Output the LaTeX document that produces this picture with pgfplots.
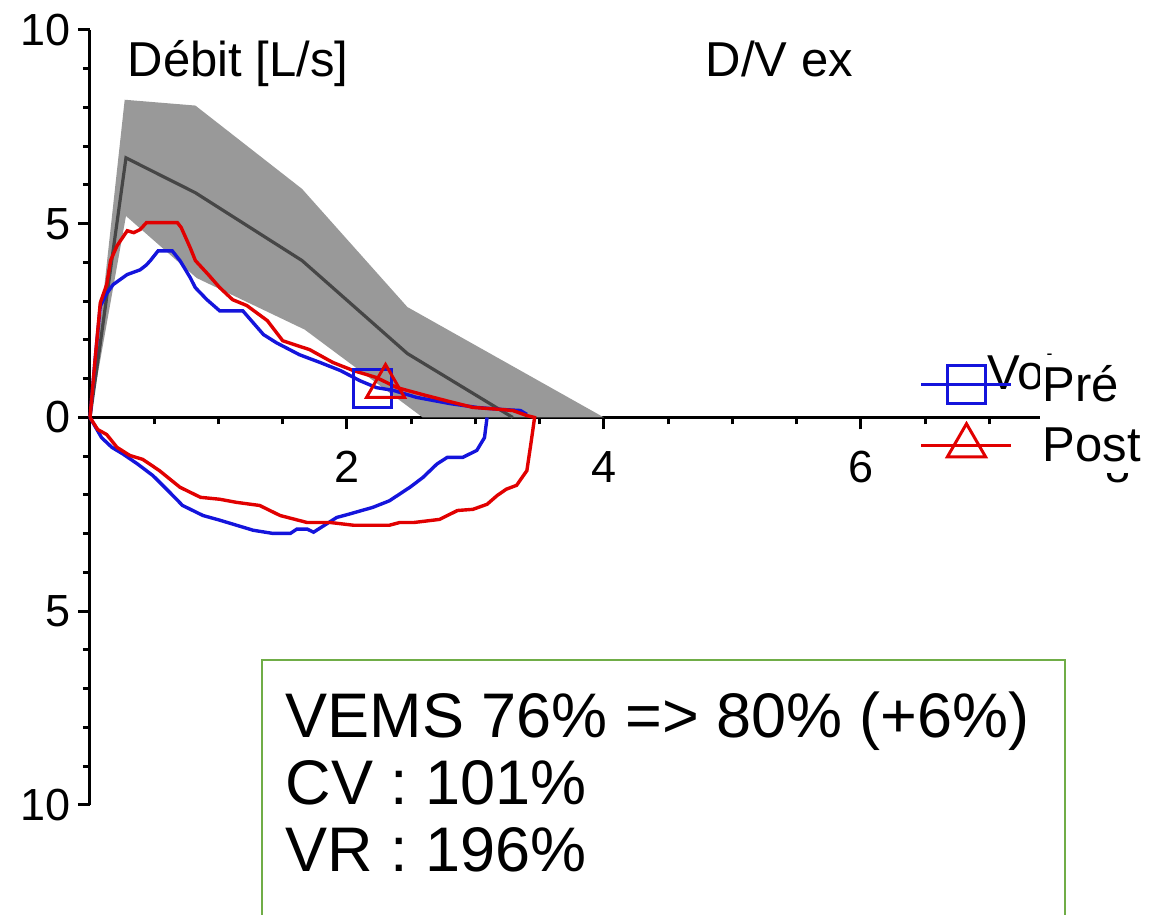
\documentclass[border=0pt]{standalone}
\usepackage{fontspec}
\setmainfont{Liberation Sans}
\usepackage{pgfplots}
\pgfplotsset{compat=1.18}
\definecolor{bandgray}{RGB}{153,153,153}
\definecolor{predgray}{RGB}{70,70,70}
\definecolor{preblue}{RGB}{20,20,220}
\definecolor{postred}{RGB}{225,0,0}
\definecolor{boxgreen}{RGB}{112,173,71}
\begin{document}
\begin{tikzpicture}
\useasboundingbox (-45pt,-55pt) rectangle (531pt,402.5pt);
\clip (-45pt,-55pt) rectangle (531pt,402.5pt);
\begin{axis}[
  at={(0pt,0pt)}, anchor=south west,
  scale only axis, width=514pt, height=387.5pt,
  xmin=0, xmax=8, ymin=-10, ymax=10,
  axis lines=middle,
  axis line style={-, line width=1.5pt, black},
  tick style={line width=1.5pt, black},
  tick align=outside,
  major tick length=6pt, minor tick length=3.5pt,
  xtick={2,4,6,8},
  minor xtick={0.5,1,1.5,2.5,3,3.5,4.5,5,5.5,6.5,7,7.5},
  ytick={-10,-5,0,5,10},
  yticklabels={10,5,0,5,10},
  minor ytick={-9,-8,-7,-6,-4,-3,-2,-1,1,2,3,4,6,7,8,9},
  hide obscured x ticks=false, hide obscured y ticks=false,
  ticklabel style={font=\fontsize{22.5}{27}\selectfont},
  xticklabel style={yshift=-7.5pt},
  /pgf/number format/assume math mode=true,
  clip=false,
  legend style={at={(axis description cs:0.807,0.573)}, anchor=north west,
    draw=none, fill=none, font=\fontsize{24.5}{29}\selectfont,
    inner sep=0pt, column sep=13pt, row sep=7.5pt},
  legend cell align=left,
  legend image code/.code={\draw[mark repeat=2,mark phase=2,#1] plot coordinates {(0pt,0pt) (22.5pt,0pt) (45pt,0pt)};},
]
% normal range band
\addplot[forget plot, fill=bandgray, draw=none] coordinates {
(0,0) (0.27,8.2) (0.82,8.05) (1.65,5.9) (2.47,2.85) (4.0,0) (2.59,0) (1.67,2.27) (0.83,3.6) (0.28,5.2) (0,0)};
% predicted
\addplot[forget plot, predgray, line width=1.6pt] coordinates {
(0,0) (0.28,6.7) (0.82,5.8) (1.65,4.05) (2.47,1.65) (3.29,0)};
% Pre expiration
\addplot[forget plot, preblue, line width=1.7pt] coordinates {
(0,0) (0.04,1.5) (0.08,2.87) (0.13,3.2) (0.18,3.43) (0.29,3.69) (0.39,3.81) (0.44,3.94) (0.47,4.05) (0.53,4.3) (0.64,4.3) (0.70,4.05) (0.78,3.61) (0.82,3.35) (0.91,3.04) (1.01,2.75) (1.19,2.75) (1.35,2.14) (1.45,1.93) (1.63,1.62) (1.79,1.42) (1.95,1.21) (2.10,0.95) (2.23,0.77) (2.36,0.70) (2.54,0.52) (2.80,0.36) (3.01,0.26) (3.19,0.21) (3.35,0.18) (3.40,0.08)};
% Pre inspiration
\addplot[forget plot, preblue, line width=1.7pt] coordinates {
(0,0) (0.09,-0.52) (0.17,-0.77) (0.26,-0.95) (0.37,-1.2) (0.49,-1.5) (0.62,-1.93) (0.72,-2.27) (0.88,-2.53) (1.01,-2.65) (1.14,-2.78) (1.27,-2.91) (1.42,-2.99) (1.56,-2.99) (1.61,-2.88) (1.69,-2.88) (1.74,-2.96) (1.92,-2.58) (2.02,-2.49) (2.2,-2.32) (2.33,-2.15) (2.49,-1.8) (2.59,-1.55) (2.7,-1.2) (2.78,-1.03) (2.9,-1.03) (3.01,-0.85) (3.07,-0.52) (3.09,0)};
% Post loop
\addplot[forget plot, postred, line width=1.7pt] coordinates {
(0,0) (0.04,1.5) (0.08,2.96) (0.13,3.43) (0.16,4.05) (0.21,4.43) (0.29,4.82) (0.34,4.77) (0.39,4.85) (0.44,5.03) (0.68,5.03) (0.71,4.9) (0.78,4.38) (0.82,4.05) (0.92,3.69) (1.01,3.35) (1.11,3.04) (1.22,2.89) (1.38,2.5) (1.50,1.98) (1.71,1.75) (1.89,1.42) (2.05,1.21) (2.23,1.03) (2.39,0.77) (2.59,0.59) (2.80,0.41) (2.98,0.26) (3.19,0.21) (3.29,0.18) (3.40,0.05) (3.46,0)
(3.43,-0.7) (3.40,-1.37) (3.32,-1.75) (3.24,-1.85) (3.17,-2.01) (3.09,-2.24) (2.98,-2.37) (2.86,-2.40) (2.72,-2.63) (2.52,-2.71) (2.41,-2.71) (2.33,-2.78) (2.05,-2.78) (1.87,-2.71) (1.69,-2.71) (1.48,-2.53) (1.32,-2.27) (1.14,-2.19) (1.01,-2.11) (0.86,-2.06) (0.70,-1.80) (0.54,-1.37) (0.41,-1.08) (0.31,-0.98) (0.21,-0.77) (0.13,-0.44) (0.06,-0.31) (0,0)};
% markers
\addplot[forget plot, only marks, mark=square, mark size=9.5pt, preblue, line width=1.5pt] coordinates {(2.20,0.75)};
\addplot[forget plot, only marks, mark=triangle, mark size=11pt, postred, line width=1.5pt] coordinates {(2.30,0.80)};
\addlegendimage{preblue, line width=1.5pt, mark=square, mark size=9.5pt}
\addlegendentry{Pré}
\addlegendimage{postred, line width=1.5pt, mark=triangle, mark size=11pt}
\addlegendentry{Post}
% texts
\node[anchor=base west, font=\fontsize{24.5}{29}\selectfont, inner sep=0pt] at (axis cs:0.29,8.81) {Débit [L/s]};
\node[anchor=base west, font=\fontsize{24.5}{29}\selectfont, inner sep=0pt] at (axis cs:4.79,8.81) {D/V ex};
\node[anchor=base west, font=\fontsize{24.5}{29}\selectfont, inner sep=0pt] at (axis cs:6.98,0.72) {Volume [L]};
\fill[white] (axis cs:7.39,1.62) rectangle (axis cs:8.6,-1.44);
% info box
\draw[boxgreen, line width=1pt] (axis cs:1.34,-6.26) rectangle (axis cs:7.59,-14);
\node[anchor=base west, font=\fontsize{31.5}{36}\selectfont, inner sep=0pt] at (axis cs:1.52,-8.25) {VEMS 76\% => 80\% (+6\%)};
\node[anchor=base west, font=\fontsize{31.5}{36}\selectfont, inner sep=0pt] at (axis cs:1.52,-10.0) {CV : 101\%};
\node[anchor=base west, font=\fontsize{31.5}{36}\selectfont, inner sep=0pt] at (axis cs:1.52,-11.72) {VR : 196\%};
\end{axis}
\end{tikzpicture}
\end{document}
